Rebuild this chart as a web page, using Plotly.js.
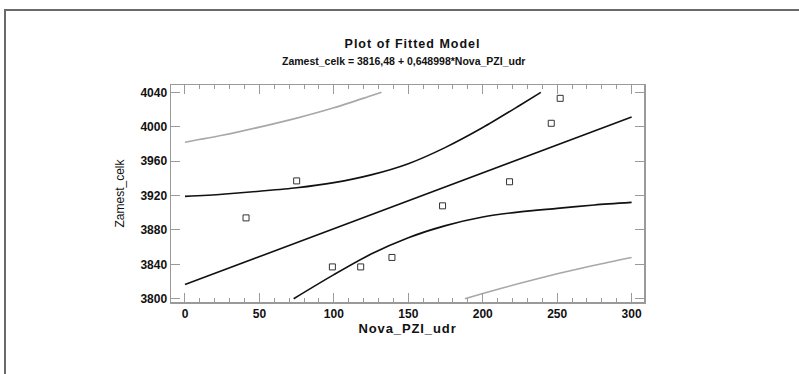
<!DOCTYPE html>
<html>
<head>
<meta charset="utf-8">
<script src="https://cdn.plot.ly/plotly-3.0.1.min.js"></script>
<style>
  html, body { margin: 0; padding: 0; background: #fff; }
  #wrap { position: relative; width: 799px; height: 374px; overflow: hidden; }
  #frame { position: absolute; left: 4px; top: 9px; width: 820px; height: 400px;
           border-top: 2px solid #6a6a6a; border-left: 2px solid #6a6a6a; pointer-events: none; }
  #chart { position: absolute; left: 0; top: 0; width: 799px; height: 374px; }
</style>
</head>
<body>
<div id="wrap">
  <div id="chart"></div>
  <div id="frame"></div>
</div>
<script>
// Observed data points
const obsX = [41, 75, 99, 118, 139, 173, 218, 246, 252];
const obsY = [3894, 3937, 3837, 3837, 3848, 3908, 3936, 4004, 4033];

// Fitted line
const fitX = [0, 300];
const fitY = [3816.5, 4011.2];

// Inner (confidence) band, upper
const ciUpX = [0, 25, 50, 75, 100, 125, 150, 175, 200, 225, 239];
const ciUpY = [3919, 3921.5, 3925, 3929, 3935, 3944, 3957, 3976, 3999, 4025, 4040];

// Inner (confidence) band, lower
const ciLoX = [73, 100, 125, 150, 175, 200, 225, 250, 275, 300];
const ciLoY = [3800, 3828, 3852, 3871, 3885, 3895, 3901, 3905, 3909, 3912];

// Outer (prediction) band, upper
const piUpX = [0, 25, 50, 75, 100, 125, 132];
const piUpY = [3982, 3990, 3999.5, 4010, 4022, 4036, 4040];

// Outer (prediction) band, lower
const piLoX = [188, 200, 225, 250, 275, 300];
const piLoY = [3800, 3806, 3818, 3829, 3839, 3848];

const xTickVals = [0, 50, 100, 150, 200, 250, 300];
const yTickVals = [3800, 3840, 3880, 3920, 3960, 4000, 4040];

const titleText = 'Plot of Fitted Model';
const subtitleText = 'Zamest_celk = 3816,48 + 0,648998*Nova_PZI_udr';
const xTitle = 'Nova_PZI_udr';
const yTitle = 'Zamest_celk';

const FONT = 'Liberation Sans, Arial, sans-serif';

const lineOpts = (c) => ({color: c, width: 1.6, shape: 'spline', smoothing: 0.8});

const traces = [
  {x: piUpX, y: piUpY, mode: 'lines', line: lineOpts('#a8a8a8'), hoverinfo: 'skip'},
  {x: piLoX, y: piLoY, mode: 'lines', line: lineOpts('#a8a8a8'), hoverinfo: 'skip'},
  {x: ciUpX, y: ciUpY, mode: 'lines', line: lineOpts('#111'), hoverinfo: 'skip'},
  {x: ciLoX, y: ciLoY, mode: 'lines', line: lineOpts('#111'), hoverinfo: 'skip'},
  {x: fitX, y: fitY, mode: 'lines', line: {color: '#111', width: 1.6}, hoverinfo: 'skip'},
  {x: obsX, y: obsY, mode: 'markers',
   marker: {symbol: 'square-open', size: 6, color: '#333', line: {width: 1, color: '#333'}}}
];

const axisCommon = {
  showline: true, mirror: 'allticks', linecolor: '#9a9a9a', linewidth: 1.5,
  ticks: 'inside', tickcolor: '#9a9a9a', tickwidth: 1, ticklen: 9,
  showgrid: false, zeroline: false,
  tickfont: {family: FONT, size: 12, color: '#111', weight: 'bold'}
};

const layout = {
  width: 799, height: 374,
  margin: {l: 171, r: 155, t: 85, b: 72},
  paper_bgcolor: '#fff', plot_bgcolor: '#fff',
  showlegend: false,
  title: {text: titleText, x: 408/799, xref: 'paper', xanchor: 'center',
          y: 1 - 44/374, yref: 'container', yanchor: 'middle',
          font: {family: FONT, size: 12.5, color: '#111', weight: 'bold'}},
  annotations: [
    {text: '<b>' + subtitleText + '</b>', xref: 'paper', yref: 'paper',
     x: (403-171)/(799-171-155), y: (374-72-61)/(374-85-72), xanchor: 'center', yanchor: 'middle',
     showarrow: false, font: {family: FONT, size: 10.5, color: '#111'}}
  ],
  xaxis: Object.assign({}, axisCommon, {
    range: [-9.4, 308.3], tickvals: xTickVals, ticktext: xTickVals.map(String),
    minor: {dtick: 10, tick0: 0, ticks: 'inside', ticklen: 4, tickcolor: '#9a9a9a', tickwidth: 1},
    title: {text: xTitle, standoff: 3, font: {family: FONT, size: 13, color: '#111', weight: 'bold'}}
  }),
  yaxis: Object.assign({}, axisCommon, {
    range: [3796.2, 4048.5], tickvals: yTickVals, ticktext: yTickVals.map(String),
    title: {text: yTitle, standoff: 13, font: {family: FONT, size: 12, color: '#111'}}
  })
};

function spacing() {
  const t = document.querySelector('#chart .gtitle');
  if (t) t.style.letterSpacing = '1px';
  const xt = document.querySelector('#chart .xtitle');
  if (xt) xt.style.letterSpacing = '0.9px';
}

Plotly.newPlot('chart', traces, layout, {staticPlot: true, displayModeBar: false}).then(spacing);
</script>
</body>
</html>
